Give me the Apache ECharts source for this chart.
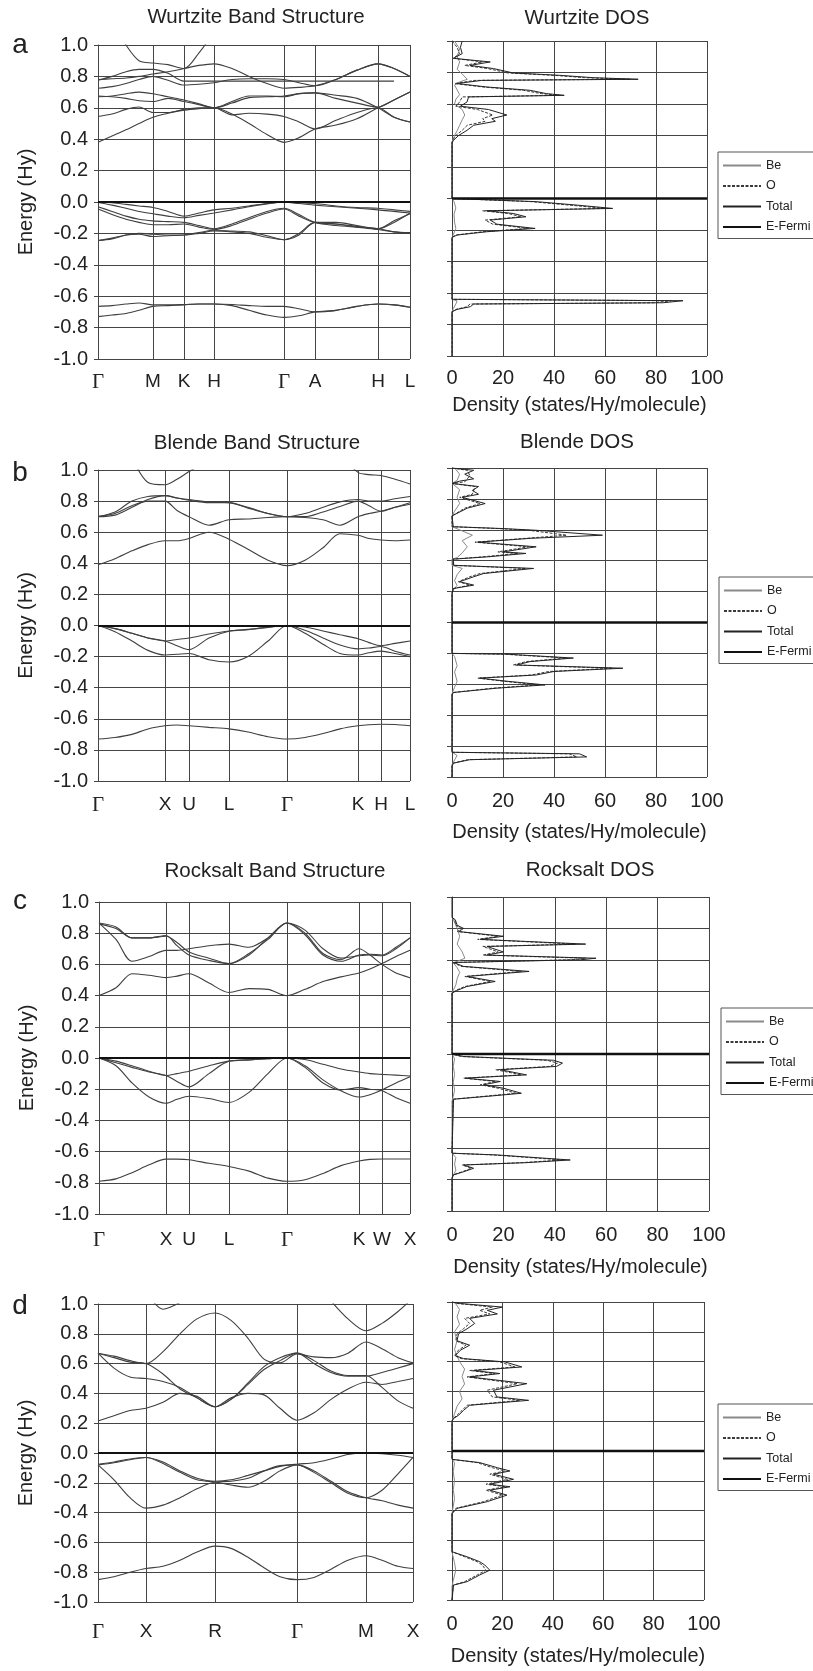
<!DOCTYPE html>
<html>
<head>
<meta charset="utf-8">
<script src="https://cdn.jsdelivr.net/npm/echarts@6/dist/echarts.min.js"></script>
<style>
html, body { margin: 0; padding: 0; background: #fff; }
#chart { width: 813px; height: 1671px; }
</style>
</head>
<body>
<div id="chart"></div>
<script>
// ---- (a) Wurtzite ----
const wzK = [0, 14, 28, 41, 55, 70, 86, 101, 116, 134, 151, 169, 186, 201, 217, 238, 259, 280, 296, 312]
const wzSym = [0, 55, 86, 116, 186, 217, 280, 312]
const wzSymNames = ['Γ', 'M', 'K', 'H', 'Γ', 'A', 'H', 'L']
const wzBands = [
  [-0.73, -0.72, -0.71, -0.69, -0.665, -0.66, -0.655, -0.65, -0.65, -0.66, -0.69, -0.72, -0.735, -0.725, -0.70, -0.69, -0.665, -0.65, -0.655, -0.67],
  [-0.665, -0.66, -0.65, -0.643, -0.655, -0.655, -0.653, -0.65, -0.65, -0.653, -0.66, -0.665, -0.665, -0.68, -0.70, -0.69, -0.665, -0.65, -0.655, -0.67],
  [0, -0.005, -0.015, -0.025, -0.035, -0.06, -0.09, -0.07, -0.05, -0.04, -0.025, -0.01, 0, -0.005, -0.01, -0.025, -0.035, -0.04, -0.05, -0.06],
  [-0.003, -0.02, -0.04, -0.06, -0.075, -0.09, -0.10, -0.085, -0.07, -0.05, -0.03, -0.012, -0.002, -0.01, -0.02, -0.03, -0.04, -0.05, -0.06, -0.07],
  [-0.03, -0.06, -0.09, -0.11, -0.12, -0.125, -0.13, -0.15, -0.17, -0.14, -0.10, -0.06, -0.04, -0.08, -0.13, -0.15, -0.16, -0.17, -0.19, -0.195],
  [-0.045, -0.08, -0.11, -0.13, -0.145, -0.145, -0.14, -0.16, -0.175, -0.15, -0.11, -0.07, -0.045, -0.09, -0.13, -0.14, -0.155, -0.17, -0.12, -0.075],
  [-0.245, -0.235, -0.21, -0.20, -0.205, -0.21, -0.21, -0.20, -0.185, -0.19, -0.20, -0.225, -0.24, -0.21, -0.13, -0.14, -0.16, -0.175, -0.19, -0.20],
  [-0.245, -0.23, -0.21, -0.205, -0.22, -0.215, -0.21, -0.195, -0.18, -0.185, -0.19, -0.215, -0.24, -0.20, -0.13, -0.13, -0.15, -0.17, -0.13, -0.07],
  [0.38, 0.42, 0.46, 0.50, 0.54, 0.565, 0.585, 0.595, 0.60, 0.56, 0.50, 0.43, 0.38, 0.41, 0.465, 0.49, 0.53, 0.60, 0.65, 0.70],
  [0.545, 0.56, 0.59, 0.605, 0.57, 0.57, 0.59, 0.60, 0.60, 0.555, 0.565, 0.56, 0.545, 0.51, 0.465, 0.52, 0.57, 0.60, 0.54, 0.51],
  [0.67, 0.675, 0.69, 0.70, 0.69, 0.67, 0.65, 0.625, 0.60, 0.64, 0.675, 0.675, 0.67, 0.69, 0.695, 0.68, 0.66, 0.60, 0.54, 0.51],
  [0.675, 0.67, 0.66, 0.645, 0.64, 0.66, 0.64, 0.62, 0.60, 0.63, 0.665, 0.67, 0.675, 0.69, 0.695, 0.66, 0.63, 0.605, 0.65, 0.70],
  [0.725, 0.735, 0.755, 0.78, 0.80, 0.775, 0.745, 0.75, 0.76, 0.78, 0.785, 0.785, 0.78, 0.76, 0.74, 0.78, 0.84, 0.88, 0.85, 0.80],
  [0.78, 0.785, 0.79, 0.80, 0.815, 0.83, 0.85, 0.87, 0.88, 0.85, 0.80, 0.755, 0.725, 0.73, 0.74, 0.78, 0.84, 0.88, 0.85, 0.80],
  [0.775, 0.80, 0.83, 0.845, 0.845, 0.82, 0.77, 0.77, 0.77, 0.77, 0.77, 0.77, 0.77, 0.77, 0.77, 0.77, 0.77, 0.77, 0.77, null],
  [null, 1.15, 1.0, 0.90, 0.885, 0.875, 0.85, 0.95, 1.08, null, null, null, null, null, null, null, null, null, null, null]
]
const wzTotal = [[4, 1.0], [4.5, 0.994], [3.3, 0.96], [4, 0.92], [0.6, 0.89], [15, 0.867], [7, 0.845], [16.3, 0.825], [24, 0.797], [42.4, 0.782], [55.4, 0.767], [73, 0.757], [11.7, 0.75], [2, 0.73], [13.7, 0.708], [30.6, 0.687], [37, 0.666], [44, 0.655], [6.5, 0.645], [5.9, 0.613], [3.3, 0.586], [14.3, 0.565], [21.5, 0.53], [15.6, 0.507], [17, 0.49], [8.5, 0.465], [5.9, 0.433], [2.6, 0.40], [0.6, 0.37], [0, 0.353], [0, 0], [0.6, -0.004], [33, -0.02], [49, -0.042], [63, -0.063], [13.7, -0.078], [24, -0.095], [29, -0.116], [15, -0.137], [17.6, -0.163], [32.6, -0.19], [13.7, -0.211], [2, -0.232], [0, -0.247], [0, -0.64], [90.6, -0.649], [82.8, -0.662], [8.5, -0.67], [7.2, -0.687], [2, -0.704], [0, -0.719], [0, -1]]
const wzO = [[0, 1.0], [2, 0.96], [3, 0.92], [0.5, 0.89], [12, 0.867], [5, 0.845], [14, 0.825], [22, 0.797], [40, 0.782], [52, 0.767], [70, 0.757], [9, 0.75], [1, 0.73], [12, 0.708], [28, 0.687], [35, 0.666], [42, 0.655], [4, 0.645], [3, 0.613], [1.5, 0.586], [10, 0.565], [16, 0.53], [12, 0.507], [13, 0.49], [6, 0.465], [4, 0.433], [1.5, 0.40], [0.3, 0.37], [0, 0.353], [0, 0], [0.3, -0.004], [31, -0.02], [46, -0.042], [60, -0.063], [12, -0.078], [22, -0.095], [27, -0.116], [13, -0.137], [16, -0.163], [30, -0.19], [12, -0.211], [1.5, -0.232], [0, -0.247], [0, -0.64], [86, -0.649], [79, -0.662], [7, -0.67], [6, -0.687], [1.5, -0.704], [0, -0.719], [0, -1]]
const wzBe = [[1, 1.0], [3, 0.95], [2, 0.9], [3, 0.867], [2, 0.82], [4, 0.79], [6, 0.757], [3, 0.74], [1, 0.72], [2, 0.69], [3, 0.66], [1.5, 0.63], [1, 0.6], [4, 0.565], [5, 0.53], [4, 0.5], [3, 0.465], [2, 0.43], [1, 0.4], [0, 0.36], [0, 0], [0.8, -0.02], [1.5, -0.06], [0.8, -0.1], [1, -0.15], [1.5, -0.19], [0.5, -0.23], [0, -0.25], [0, -0.64], [2, -0.65], [1.5, -0.67], [0.5, -0.7], [0, -0.72], [0, -1]]

// ---- (b) Blende ----
const blK = [0, 17, 34, 50, 67, 79, 91, 111, 131, 150, 170, 189, 207, 225, 242, 260, 271, 283, 297, 312]
const blSym = [0, 67, 91, 131, 189, 260, 283, 312]
const blSymNames = ['Γ', 'X', 'U', 'L', 'Γ', 'K', 'H', 'L']
const blBands = [
  [-0.73, -0.72, -0.70, -0.665, -0.645, -0.64, -0.645, -0.655, -0.665, -0.685, -0.715, -0.73, -0.72, -0.695, -0.665, -0.645, -0.638, -0.635, -0.637, -0.645],
  [0, -0.02, -0.05, -0.08, -0.10, -0.09, -0.08, -0.055, -0.035, -0.025, -0.01, 0, -0.01, -0.035, -0.06, -0.085, -0.11, -0.13, -0.115, -0.10],
  [0, -0.02, -0.05, -0.08, -0.10, -0.13, -0.155, -0.08, -0.037, -0.027, -0.012, 0, -0.03, -0.08, -0.125, -0.15, -0.145, -0.135, -0.165, -0.19],
  [0, -0.04, -0.10, -0.16, -0.19, -0.185, -0.18, -0.22, -0.235, -0.20, -0.10, 0, -0.05, -0.12, -0.18, -0.19, -0.175, -0.165, -0.18, -0.20],
  [0.39, 0.43, 0.48, 0.52, 0.545, 0.545, 0.56, 0.60, 0.555, 0.49, 0.42, 0.385, 0.42, 0.50, 0.59, 0.58, 0.56, 0.55, 0.545, 0.55],
  [0.70, 0.72, 0.77, 0.80, 0.80, 0.74, 0.70, 0.645, 0.68, 0.685, 0.695, 0.70, 0.695, 0.68, 0.645, 0.70, 0.72, 0.735, 0.76, 0.78],
  [0.70, 0.73, 0.80, 0.83, 0.835, 0.82, 0.81, 0.795, 0.79, 0.76, 0.72, 0.70, 0.72, 0.76, 0.795, 0.81, 0.80, 0.80, 0.815, 0.83],
  [0.70, 0.71, 0.76, 0.81, 0.835, 0.82, 0.805, 0.79, 0.79, 0.755, 0.72, 0.70, 0.70, 0.73, 0.765, 0.80, 0.77, 0.735, 0.76, 0.79],
  [null, null, 1.08, 0.92, 0.905, 0.94, 0.99, 1.06, null, null, null, null, null, null, 1.1, 0.985, 0.97, 0.965, 0.94, 0.91]
]
const blTotal = [[0, 1.0], [0.5, 0.995], [8.5, 0.985], [5, 0.96], [8.5, 0.93], [3, 0.915], [0, 0.90], [10.4, 0.88], [8, 0.855], [10.4, 0.83], [4, 0.81], [13, 0.77], [6, 0.74], [0, 0.69], [0.5, 0.62], [20, 0.608], [33, 0.597], [59, 0.565], [31, 0.545], [10, 0.52], [33, 0.49], [20, 0.457], [29, 0.447], [14, 0.425], [0.5, 0.41], [0.7, 0.37], [32, 0.35], [12.4, 0.317], [8.5, 0.296], [3, 0.264], [8.5, 0.242], [0.6, 0.22], [0, 0.19], [0, -0.2], [21.5, -0.205], [47.6, -0.23], [30.6, -0.253], [25.4, -0.275], [67, -0.296], [40, -0.317], [33, -0.34], [11, -0.36], [21.5, -0.38], [36.5, -0.404], [17.6, -0.425], [0.6, -0.453], [0, -0.468], [0, -0.84], [50, -0.85], [52.8, -0.87], [7, -0.888], [0.6, -0.91], [0, -0.93], [0, -1]]
const blO = [[0, 1.0], [6, 0.985], [7, 0.95], [5, 0.91], [0, 0.90], [9, 0.88], [8, 0.83], [3, 0.81], [11, 0.77], [5, 0.74], [0, 0.69], [0, 0.62], [18, 0.608], [30, 0.597], [45, 0.565], [29, 0.545], [9, 0.52], [30, 0.49], [18, 0.457], [26, 0.447], [12, 0.425], [0.4, 0.41], [0.5, 0.37], [29, 0.35], [11, 0.317], [7, 0.296], [2.5, 0.264], [7, 0.242], [0.5, 0.22], [0, 0.19], [0, -0.2], [20, -0.205], [45, -0.23], [29, -0.253], [24, -0.275], [63, -0.296], [38, -0.317], [31, -0.34], [10, -0.36], [20, -0.38], [34, -0.404], [16, -0.425], [0.5, -0.453], [0, -0.468], [0, -0.84], [46, -0.85], [49, -0.87], [6, -0.888], [0.5, -0.91], [0, -0.93], [0, -1]]
const blBe = [[1, 1], [3, 0.96], [2, 0.92], [0, 0.9], [3, 0.86], [2, 0.81], [3, 0.77], [1, 0.72], [0, 0.69], [0, 0.62], [3, 0.60], [8, 0.565], [4, 0.53], [6, 0.49], [4, 0.45], [2, 0.42], [0, 0.41], [0, 0.37], [4, 0.35], [2, 0.31], [1, 0.27], [2, 0.24], [0, 0.2], [0, -0.2], [1, -0.22], [2, -0.28], [1, -0.32], [2, -0.38], [1, -0.42], [0, -0.46], [0, -0.84], [2, -0.86], [1, -0.89], [0, -0.92], [0, -1]]

// ---- (c) Rocksalt ----
const rsK = [0, 17, 33, 50, 67, 78, 90, 110, 130, 150, 169, 188, 206, 224, 242, 260, 271, 283, 297, 311]
const rsSym = [0, 67, 90, 130, 188, 260, 283, 311]
const rsSymNames = ['Γ', 'X', 'U', 'L', 'Γ', 'K', 'W', 'X']
const rsBands = [
  [-0.79, -0.775, -0.735, -0.685, -0.648, -0.648, -0.652, -0.675, -0.695, -0.725, -0.77, -0.79, -0.78, -0.74, -0.69, -0.66, -0.65, -0.647, -0.647, -0.647],
  [0, -0.02, -0.05, -0.085, -0.112, -0.10, -0.085, -0.05, -0.02, -0.012, -0.005, 0, -0.01, -0.04, -0.07, -0.09, -0.10, -0.105, -0.11, -0.115],
  [0, -0.03, -0.06, -0.09, -0.112, -0.15, -0.185, -0.10, -0.02, -0.012, -0.005, 0, -0.05, -0.14, -0.21, -0.25, -0.235, -0.205, -0.16, -0.12],
  [0, -0.05, -0.16, -0.25, -0.29, -0.265, -0.245, -0.26, -0.285, -0.22, -0.10, 0, -0.06, -0.16, -0.205, -0.19, -0.20, -0.21, -0.255, -0.29],
  [0.40, 0.45, 0.54, 0.53, 0.515, 0.525, 0.54, 0.48, 0.42, 0.445, 0.44, 0.40, 0.44, 0.49, 0.52, 0.545, 0.57, 0.605, 0.65, 0.69],
  [0.865, 0.76, 0.62, 0.65, 0.69, 0.69, 0.70, 0.72, 0.73, 0.71, 0.77, 0.865, 0.79, 0.66, 0.62, 0.66, 0.665, 0.66, 0.71, 0.77],
  [0.865, 0.84, 0.77, 0.77, 0.785, 0.72, 0.66, 0.625, 0.605, 0.67, 0.76, 0.865, 0.80, 0.67, 0.63, 0.70, 0.66, 0.60, 0.545, 0.515],
  [0.86, 0.83, 0.77, 0.77, 0.78, 0.74, 0.68, 0.64, 0.605, 0.66, 0.77, 0.865, 0.82, 0.70, 0.64, 0.655, 0.66, 0.655, 0.70, 0.77]
]
const rsTotal = [[0, 1], [0, 0.87], [1.3, 0.855], [2, 0.82], [4.5, 0.80], [2.6, 0.78], [20, 0.75], [11, 0.73], [52, 0.70], [13.6, 0.685], [20, 0.65], [13.6, 0.63], [56, 0.61], [50, 0.60], [0.6, 0.583], [4.5, 0.558], [30, 0.526], [5.8, 0.494], [16.8, 0.462], [5.8, 0.43], [2, 0.405], [0, 0.388], [0, 0], [4.5, -0.016], [39.5, -0.04], [43, -0.058], [40.7, -0.079], [18.8, -0.10], [29, -0.133], [5.2, -0.154], [18.8, -0.175], [12.3, -0.196], [20, -0.218], [27, -0.25], [13.6, -0.27], [0.6, -0.288], [0, -0.30], [0, -0.632], [17.5, -0.643], [46, -0.675], [29, -0.692], [4.5, -0.707], [8.4, -0.728], [4.5, -0.75], [0.6, -0.77], [0, -0.79], [0, -1]]
const rsO = [[0, 0.87], [1, 0.855], [1.5, 0.82], [3.5, 0.80], [2, 0.78], [18, 0.75], [10, 0.73], [48, 0.70], [12, 0.685], [18, 0.65], [12, 0.63], [52, 0.61], [46, 0.60], [0.4, 0.583], [3.5, 0.558], [27, 0.526], [5, 0.494], [15, 0.462], [5, 0.43], [1.5, 0.405], [0, 0.388], [0, 0], [3.5, -0.016], [37, -0.04], [41, -0.058], [38, -0.079], [17, -0.10], [27, -0.133], [4.5, -0.154], [17, -0.175], [11, -0.196], [18, -0.218], [25, -0.25], [12, -0.27], [0.4, -0.288], [0, -0.30], [0, -0.632], [16, -0.643], [43, -0.675], [27, -0.692], [4, -0.707], [7.5, -0.728], [4, -0.75], [0.4, -0.77], [0, -0.79], [0, -1]]
const rsBe = [[0, 0.87], [1, 0.84], [2, 0.80], [3, 0.75], [2, 0.70], [4, 0.65], [5, 0.61], [0.5, 0.58], [2, 0.55], [3, 0.52], [2, 0.48], [1.5, 0.44], [0, 0.39], [0, 0], [1, -0.03], [0.5, -0.08], [1, -0.13], [0.5, -0.18], [1, -0.23], [0.5, -0.27], [0, -0.3], [0, -0.63], [1.5, -0.66], [1, -0.7], [1.5, -0.74], [0, -0.79], [0, -1]]

// ---- (d) CsCl-type ----
const cuK = [0, 16, 32, 48, 65, 82, 99, 117, 133, 150, 166, 182, 199, 216, 233, 250, 268, 284, 300, 315]
const cuSym = [0, 48, 117, 199, 268, 315]
const cuSymNames = ['Γ', 'X', 'R', 'Γ', 'M', 'X']
const cuBands = [
  [-0.85, -0.83, -0.80, -0.775, -0.76, -0.72, -0.665, -0.625, -0.64, -0.70, -0.77, -0.83, -0.85, -0.835, -0.78, -0.72, -0.69, -0.72, -0.76, -0.775],
  [-0.075, -0.06, -0.04, -0.03, -0.06, -0.12, -0.17, -0.19, -0.18, -0.15, -0.12, -0.09, -0.075, -0.065, -0.04, -0.01, 0, -0.005, -0.015, -0.03],
  [-0.08, -0.065, -0.045, -0.03, -0.07, -0.13, -0.18, -0.195, -0.215, -0.23, -0.19, -0.12, -0.08, -0.12, -0.19, -0.26, -0.30, -0.32, -0.35, -0.37],
  [-0.08, -0.18, -0.30, -0.37, -0.35, -0.30, -0.24, -0.195, -0.19, -0.17, -0.12, -0.085, -0.08, -0.13, -0.20, -0.27, -0.30, -0.25, -0.14, -0.03],
  [0.215, 0.25, 0.285, 0.30, 0.34, 0.40, 0.38, 0.31, 0.37, 0.40, 0.39, 0.30, 0.22, 0.27, 0.36, 0.43, 0.475, 0.46, 0.48, 0.50],
  [0.67, 0.57, 0.51, 0.50, 0.48, 0.44, 0.37, 0.31, 0.36, 0.46, 0.56, 0.62, 0.67, 0.60, 0.54, 0.515, 0.515, 0.54, 0.57, 0.60],
  [0.67, 0.65, 0.62, 0.60, 0.68, 0.80, 0.90, 0.94, 0.89, 0.77, 0.63, 0.605, 0.665, 0.645, 0.64, 0.67, 0.745, 0.70, 0.64, 0.605],
  [0.67, 0.64, 0.61, 0.60, 0.53, 0.43, 0.37, 0.31, 0.36, 0.47, 0.58, 0.64, 0.67, 0.62, 0.55, 0.52, 0.52, 0.44, 0.35, 0.30],
  [null, null, null, 1.08, 0.965, 1.01, null, null, null, null, null, null, null, null, 1.02, 0.90, 0.82, 0.87, 0.95, 1.04]
]
const cuTotal = [[0, 1], [3.3, 0.99], [20, 0.966], [14, 0.944], [18, 0.92], [7, 0.89], [9, 0.856], [6, 0.82], [2.6, 0.787], [2, 0.74], [7, 0.71], [3.3, 0.676], [1.3, 0.64], [4.6, 0.62], [21, 0.598], [27.7, 0.564], [8.6, 0.54], [19, 0.52], [7, 0.497], [29.7, 0.452], [16.5, 0.408], [17.8, 0.363], [30.4, 0.34], [7, 0.307], [4.6, 0.273], [2.6, 0.24], [0.6, 0.218], [0, 0.20], [0, -0.056], [11, -0.078], [18, -0.112], [23, -0.134], [16.5, -0.156], [24.4, -0.19], [15, -0.223], [23, -0.24], [15, -0.263], [21.8, -0.296], [14, -0.34], [2, -0.385], [0, -0.42], [0, -0.676], [6, -0.71], [11, -0.743], [13, -0.765], [15, -0.80], [11, -0.832], [6, -0.877], [0.6, -0.90], [0, -0.91], [0, -1]]
const cuO = [[0, 1], [2, 0.99], [16, 0.966], [11, 0.944], [15, 0.92], [5, 0.89], [7, 0.856], [4.5, 0.82], [2, 0.787], [1.5, 0.74], [5.5, 0.71], [2.5, 0.676], [1, 0.64], [3.5, 0.62], [19, 0.598], [25, 0.564], [7, 0.54], [17, 0.52], [6, 0.497], [26, 0.452], [14, 0.408], [16, 0.363], [27, 0.34], [6, 0.307], [4, 0.273], [2, 0.24], [0.5, 0.218], [0, 0.2], [0, -0.056], [10, -0.078], [16, -0.112], [21, -0.134], [15, -0.156], [22, -0.19], [13.5, -0.223], [21, -0.24], [13.5, -0.263], [20, -0.296], [12.5, -0.34], [1.5, -0.385], [0, -0.42], [0, -0.676], [5, -0.71], [10, -0.743], [12, -0.765], [13.5, -0.80], [10, -0.832], [5, -0.877], [0.5, -0.90], [0, -0.91], [0, -1]]
const cuBe = [[1, 1], [3, 0.95], [2, 0.90], [3, 0.85], [1, 0.80], [2, 0.74], [1, 0.68], [3, 0.60], [5, 0.55], [4, 0.50], [5, 0.45], [3, 0.40], [4, 0.35], [2, 0.30], [1, 0.25], [0, 0.2], [0, -0.05], [1, -0.08], [0.5, -0.14], [1, -0.2], [0.5, -0.26], [1, -0.32], [0, -0.42], [0, -0.68], [1, -0.75], [1.5, -0.8], [0.5, -0.87], [0, -0.91], [0, -1]]

const legendNames = ['Be', 'O', 'Total', 'E-Fermi']

const FONT = '"Liberation Sans", Arial, sans-serif'
const GRID = '#444'
const INK = '#222'

const panels = [
  {
    letter: 'a', k: wzK, sym: wzSym, names: wzSymNames, bands: wzBands, total: wzTotal, o: wzO, be: wzBe,
    bandTitle: 'Wurtzite Band Structure', dosTitle: 'Wurtzite DOS',
    bandRect: [98, 45, 312, 314], dosRect: [452, 41, 255, 315],
    letterPos: [20, 45], bandTitlePos: [256, 17], dosTitlePos: [587, 18],
    kMargin: 13, dosLabelMargin: 12, dosNameGap: 39, legendTop: 152, legendLeft: 718
  },
  {
    letter: 'b', k: blK, sym: blSym, names: blSymNames, bands: blBands, total: blTotal, o: blO, be: blBe,
    bandTitle: 'Blende Band Structure', dosTitle: 'Blende DOS',
    bandRect: [98, 470, 312, 311], dosRect: [452, 468, 255, 309],
    letterPos: [20, 473], bandTitlePos: [257, 443], dosTitlePos: [577, 442],
    kMargin: 14, dosLabelMargin: 14, dosNameGap: 45, legendTop: 577, legendLeft: 719
  },
  {
    letter: 'c', k: rsK, sym: rsSym, names: rsSymNames, bands: rsBands, total: rsTotal, o: rsO, be: rsBe,
    bandTitle: 'Rocksalt Band Structure', dosTitle: 'Rocksalt DOS',
    bandRect: [99, 902, 311, 312], dosRect: [452, 897, 257, 314],
    letterPos: [20, 901], bandTitlePos: [275, 871], dosTitlePos: [590, 870],
    kMargin: 16, dosLabelMargin: 14, dosNameGap: 46, legendTop: 1008, legendLeft: 721
  },
  {
    letter: 'd', k: cuK, sym: cuSym, names: cuSymNames, bands: cuBands, total: cuTotal, o: cuO, be: cuBe,
    bandTitle: '', dosTitle: '',
    bandRect: [98, 1304, 315, 298], dosRect: [452, 1302, 252, 298],
    letterPos: [20, 1306], bandTitlePos: [0, 0], dosTitlePos: [0, 0],
    kMargin: 20, dosLabelMargin: 14, dosNameGap: 46, legendTop: 1404, legendLeft: 718
  }
]

const grid = [], xAxis = [], yAxis = [], series = [], legend = [], graphic = []

function textEl(text, x, y, size, family) {
  return {
    type: 'text', x: x, y: y, silent: true,
    style: {
      text: text, fontSize: size, fontFamily: family || FONT, fill: INK,
      align: 'center', verticalAlign: 'middle', textAlign: 'center', textVerticalAlign: 'middle'
    }
  }
}

panels.forEach((p, i) => {
  const bi = i, di = i + 4
  grid[bi] = { left: p.bandRect[0], top: p.bandRect[1], width: p.bandRect[2], height: p.bandRect[3] }
  grid[di] = { left: p.dosRect[0], top: p.dosRect[1], width: p.dosRect[2], height: p.dosRect[3] }

  const kmax = p.sym[p.sym.length - 1]
  xAxis[bi] = {
    gridIndex: bi, type: 'value', min: 0, max: kmax,
    axisLine: { show: true, lineStyle: { color: GRID } },
    axisTick: { show: true, customValues: p.sym, length: 4, lineStyle: { color: GRID } },
    axisLabel: {
      show: true, customValues: p.sym, margin: p.kMargin, fontSize: 19, color: INK, fontFamily: FONT,
      showMinLabel: true, showMaxLabel: true,
      formatter: function (v) {
        let j = p.sym.findIndex(s => Math.abs(s - v) < 1e-6)
        const n = j >= 0 ? p.names[j] : ''
        return n === 'Γ' ? '{g|Γ}' : n
      },
      rich: { g: { fontFamily: '"Liberation Serif", "DejaVu Serif", serif', fontSize: 21, color: INK } }
    },
    splitLine: { show: false }
  }
  yAxis[bi] = {
    gridIndex: bi, type: 'value', min: -1, max: 1, interval: 0.2,
    axisLine: { show: true, lineStyle: { color: GRID } },
    axisTick: { show: true, length: 4, lineStyle: { color: GRID } },
    axisLabel: {
      fontSize: 20, color: INK, fontFamily: FONT, margin: 10,
      formatter: v => (Math.abs(v) < 1e-9 ? 0 : v).toFixed(1)
    },
    splitLine: { show: true, lineStyle: { color: GRID, width: 1 } },
    name: 'Energy (Hy)', nameLocation: 'middle', nameGap: 62,
    nameTextStyle: { fontSize: 20, color: INK, fontFamily: FONT }
  }
  xAxis[di] = {
    gridIndex: di, type: 'value', min: 0, max: 100, interval: 20,
    axisLine: { show: true, lineStyle: { color: GRID } },
    axisTick: { show: true, length: 4, lineStyle: { color: GRID } },
    axisLabel: { fontSize: 20, color: INK, fontFamily: FONT, margin: p.dosLabelMargin },
    splitLine: { show: true, lineStyle: { color: GRID, width: 1 } },
    name: 'Density (states/Hy/molecule)', nameLocation: 'middle', nameGap: p.dosNameGap,
    nameTextStyle: { fontSize: 20, color: INK, fontFamily: FONT }
  }
  yAxis[di] = {
    gridIndex: di, type: 'value', min: -1, max: 1, interval: 0.2,
    axisLine: { show: true, lineStyle: { color: GRID } },
    axisTick: { show: true, length: 5, lineStyle: { color: GRID } },
    axisLabel: { show: false },
    splitLine: { show: true, lineStyle: { color: GRID, width: 1 } }
  }

  // bands
  p.bands.forEach((b, j) => {
    const s = {
      type: 'line', xAxisIndex: bi, yAxisIndex: bi, silent: true, symbol: 'none',
      smooth: 0.3, clip: true, connectNulls: false, animation: false,
      lineStyle: { color: '#3f3f3f', width: 1.1 },
      data: b.map((y, m) => [p.k[m], y])
    }
    if (j === 0) {
      s.markLine = {
        silent: true, symbol: 'none', label: { show: false }, animation: false,
        data: p.sym.map(v => ({ xAxis: v, lineStyle: { color: GRID, width: 1, type: 'solid' } }))
          .concat([{ yAxis: 0, lineStyle: { color: '#111', width: 2.2, type: 'solid' } }])
      }
    }
    series.push(s)
  })

  // DOS
  const dosBase = {
    type: 'line', xAxisIndex: di, yAxisIndex: di, symbol: 'none', showSymbol: false,
    silent: true, clip: true, animation: false
  }
  series.push(Object.assign({}, dosBase, { name: 'Be', data: p.be, itemStyle: { color: '#8a8a8a' }, lineStyle: { color: '#8a8a8a', width: 1 } }))
  series.push(Object.assign({}, dosBase, { name: 'O', data: p.o, itemStyle: { color: '#3a3a3a' }, lineStyle: { color: '#3a3a3a', width: 1, type: [3, 1.5] } }))
  series.push(Object.assign({}, dosBase, { name: 'Total', data: p.total, itemStyle: { color: '#222' }, lineStyle: { color: '#222', width: 1 } }))
  series.push(Object.assign({}, dosBase, { name: 'E-Fermi', data: [[0, 0], [100, 0]], itemStyle: { color: '#111' }, lineStyle: { color: '#111', width: 2.5 } }))

  legend.push({
    data: legendNames, orient: 'vertical', left: p.legendLeft, top: p.legendTop,
    itemWidth: 38, itemHeight: 14, itemGap: 7.5, selectedMode: false,
    itemStyle: { opacity: 0 },
    padding: [7, 100, 5, 4], borderColor: '#555', borderWidth: 1, backgroundColor: '#fff',
    textStyle: { fontSize: 12.5, color: INK, fontFamily: FONT }
  })

  graphic.push(textEl(p.letter, p.letterPos[0], p.letterPos[1], 28))
  if (p.bandTitle) graphic.push(textEl(p.bandTitle, p.bandTitlePos[0], p.bandTitlePos[1], 20.5))
  if (p.dosTitle) graphic.push(textEl(p.dosTitle, p.dosTitlePos[0], p.dosTitlePos[1], 20.5))
})

const chart = echarts.init(document.getElementById('chart'), null, { renderer: 'canvas' })
chart.setOption({
  backgroundColor: '#fff',
  animation: false,
  grid: grid,
  xAxis: xAxis,
  yAxis: yAxis,
  legend: legend,
  graphic: graphic,
  series: series
})
</script>
</body>
</html>
